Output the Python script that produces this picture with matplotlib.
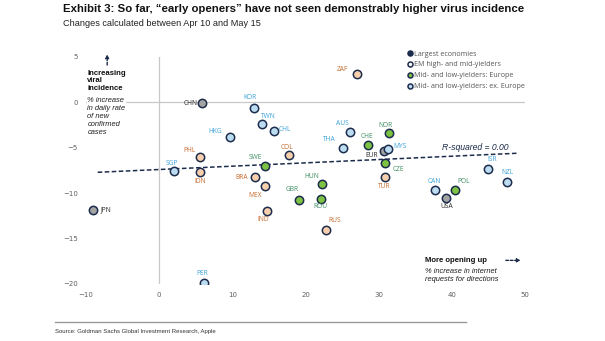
import numpy as np
import matplotlib
matplotlib.use("Agg")
import matplotlib.pyplot as plt
from matplotlib.lines import Line2D

# country codes, % increase in direction requests (x) and in daily case growth (y)
largest = ["CHN", "JPN", "EUR", "USA"]
largest_x = [5.9, -9.0, 30.7, 39.2]
largest_y = [-0.1, -11.8, -5.4, -10.5]

em_high = ["ZAF", "PHL", "COL", "IDN", "BRA", "MEX", "IND", "RUS", "TUR"]
em_high_x = [27.1, 5.6, 17.8, 5.6, 13.1, 14.5, 14.7, 22.8, 30.9]
em_high_y = [3.1, -6.0, -5.8, -7.7, -8.2, -9.2, -12.0, -14.0, -8.2]

europe = ["SWE", "GBR", "HUN", "ROU", "CHE", "NOR", "CZE", "POL"]
europe_x = [14.5, 19.1, 22.3, 22.1, 28.5, 31.4, 30.9, 40.5]
europe_y = [-7.0, -10.8, -9.0, -10.6, -4.7, -3.4, -6.7, -9.7]

ex_europe = ["KOR", "TWN", "CHL", "HKG", "SGP", "PER", "AUS", "THA",
             "MYS", "CAN", "ISR", "NZL"]
ex_europe_x = [13.0, 14.1, 15.7, 9.7, 2.1, 6.1, 26.1, 25.1,
               31.3, 37.7, 44.9, 47.5]
ex_europe_y = [-0.6, -2.4, -3.1, -3.8, -7.6, -19.9, -3.3, -5.0,
               -5.1, -9.7, -7.3, -8.8]

trend_x = [-8.4, 49.0]
trend_y = [-7.7, -5.6]

# label offsets in pixels (dx, dy), with horizontal alignment
offsets = {
    "CHN": (-5, 0, "right"), "JPN": (7, 0, "left"), "EUR": (-6, -4, "right"),
    "USA": (1, -9, "center"),
    "ZAF": (-15, 5, "center"), "PHL": (-11, 6, "center"), "COL": (-2, 8, "center"),
    "IDN": (0, -9, "center"), "BRA": (-7, -1, "right"), "MEX": (-10, -10, "center"),
    "IND": (-3, -8, "center"), "RUS": (9, 9, "center"), "TUR": (-1, -10, "center"),
    "SWE": (-10, 8, "center"), "GBR": (-7, 11, "center"), "HUN": (-11, 8, "center"),
    "ROU": (0, -8, "center"), "CHE": (-1, 9, "center"), "NOR": (-3, 8, "center"),
    "CZE": (13, -6, "center"), "POL": (8, 9, "center"),
    "KOR": (-4, 10, "center"), "TWN": (6, 8, "center"), "CHL": (5, 1, "left"),
    "HKG": (-15, 5, "center"), "SGP": (-3, 8, "center"), "PER": (-2, 10, "center"),
    "AUS": (-8, 9, "center"), "THA": (-13, 8, "center"), "MYS": (5, 2, "left"),
    "CAN": (-1, 9, "center"), "ISR": (5, 9, "center"), "NZL": (1, 10, "center"),
}

navy = "#1c2c4c"
groups = [
    (largest, largest_x, largest_y, "#a3a3a3", "#262626", "Largest economies", navy),
    (em_high, em_high_x, em_high_y, "#f8cfac", "#c46a2c", "EM high- and mid-yielders", "white"),
    (europe, europe_x, europe_y, "#7dc242", "#3f8f63", "Mid- and low-yielders: Europe", "#7dc242"),
    (ex_europe, ex_europe_x, ex_europe_y, "#bcdcf2", "#3ea2d8", "Mid- and low-yielders: ex. Europe", "#bcdcf2"),
]

fig = plt.figure(figsize=(6.05, 3.41), dpi=100)
ax = fig.add_axes([0.1421, 0.1672, 0.7256, 0.6657])
ax.set_xlim(-10, 50)
ax.set_ylim(-20, 5)
for s in ax.spines.values():
    s.set_visible(False)
ax.axhline(0, color="#c8c8c8", lw=0.9, zorder=1)
ax.axvline(0, color="#c8c8c8", lw=0.9, zorder=1)
ax.set_xticks(range(-10, 51, 10))
ax.set_yticks(range(-20, 6, 5))
ax.tick_params(length=0, labelsize=5, labelcolor="#606060", pad=6)

ax.plot(trend_x, trend_y, ls=(0, (3, 1.6)), color=navy, lw=1.1, zorder=2)

handles = []
for names, xs, ys, fill, tcol, lab, hfill in groups:
    ax.scatter(xs, ys, s=36, facecolor=fill, edgecolor=navy, linewidth=1.1, zorder=3)
    for n, x, y in zip(names, xs, ys):
        dx, dy, ha = offsets[n]
        ax.annotate(n, (x, y), xytext=(dx, dy), textcoords="offset pixels",
                    ha=ha, va="center", fontsize=4.8, color=tcol,
                    family=["Open Sans", "DejaVu Sans"], zorder=4)
    handles.append(Line2D([], [], ls="", marker="o", ms=3.6, mfc=hfill,
                          mec=navy, mew=1.1, label=lab))

leg = ax.legend(handles=handles, loc="upper left", bbox_to_anchor=(0.668, 0.862),
                bbox_transform=fig.transFigure, frameon=False,
                handletextpad=0.2, handlelength=0.7, labelspacing=0.55,
                labelcolor="#555555", borderpad=0, prop={"family": "Open Sans", "size": 5.1})

# axis explanations
ax.text(-9.8, 3.6, "Increasing\nviral\nincidence", fontsize=5.6, fontweight="bold",
        va="top", ha="left", linespacing=1.15, family="Liberation Sans", color="#111111")
ax.text(-9.8, 0.55, "% increase\nin daily rate\nof new\nconfirmed\ncases", fontsize=5.4,
        style="italic", va="top", ha="left", linespacing=1.2, family="Liberation Sans",
        color="#222222", bbox=dict(facecolor="white", edgecolor="none", pad=0.3), zorder=2)
ax.annotate("", xy=(-7.1, 5.6), xytext=(-7.1, 3.8), annotation_clip=False,
            arrowprops=dict(arrowstyle="-|>", color=navy, lw=1.0, ls=(0, (2, 1.2)),
                            mutation_scale=5))

ax.text(36.4, -17.4, "More opening up", fontsize=5.6, fontweight="bold", va="center",
        ha="left", family="Liberation Sans", color="#111111")
ax.text(36.4, -18.2, "% increase in internet\nrequests for directions", fontsize=5.4,
        style="italic", va="top", ha="left", linespacing=1.25, family="Liberation Sans",
        color="#222222")
ax.annotate("", xy=(49.8, -17.4), xytext=(47.0, -17.4), annotation_clip=False,
            arrowprops=dict(arrowstyle="-|>", color=navy, lw=1.0, ls=(0, (2, 1.2)),
                            mutation_scale=5))

ax.text(38.6, -5.0, "R-squared = 0.00", fontsize=6.2, style="italic", va="center",
        ha="left", family="Liberation Sans", color=navy)

sans = ["Liberation Sans", "DejaVu Sans"]
fig.text(63 / 605, 1 - 9 / 341,
         "Exhibit 3: So far, \u201cearly openers\u201d have not seen demonstrably higher virus incidence",
         fontsize=8.2, fontweight="bold", va="center", ha="left", family=sans, color="#111111")
fig.text(63 / 605, 1 - 23 / 341, "Changes calculated between Apr 10 and May 15",
         fontsize=6.6, va="center", ha="left", family=sans, color="#222222")

fig.add_artist(Line2D([55 / 605, 466 / 605], [1 - 322 / 341] * 2, color="#9a9a9a", lw=1.0))
fig.text(55 / 605, 1 - 331 / 341, "Source: Goldman Sachs Global Investment Research, Apple",
         fontsize=4.3, va="center", ha="left", family=sans, color="#333333")

fig.savefig("out.png", dpi=100)
